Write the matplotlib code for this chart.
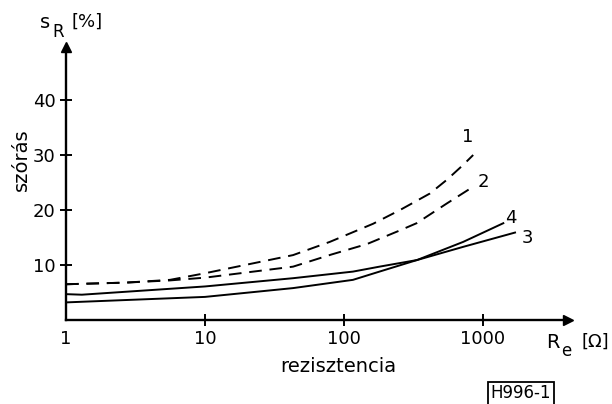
import matplotlib
matplotlib.use("Agg")
import matplotlib.pyplot as plt
import numpy as np

# Data
R1 = [1, 2.7, 5.6, 10, 43, 79, 162, 253, 415, 550, 720, 850]
S1 = [6.5, 6.8, 7.3, 8.5, 11.8, 14.2, 17.5, 20.0, 23.0, 25.5, 28.2, 30.0]
R2 = [1, 2.7, 5.6, 10, 43, 81, 146, 253, 333, 550, 810]
S2 = [6.5, 6.8, 7.2, 7.7, 9.7, 11.9, 13.8, 16.3, 17.6, 21.2, 23.9]
R3 = [1, 1.3, 10, 43, 116, 180, 335, 720, 1700]
S3 = [4.7, 4.6, 6.1, 7.6, 8.8, 9.7, 10.9, 13.3, 15.9]
R4 = [1, 10, 43, 116, 180, 335, 720, 1400]
S4 = [3.2, 4.2, 5.8, 7.3, 8.8, 10.9, 14.2, 17.6]

curve_labels = ["1", "2", "3", "4"]
label_pos_x = [780, 1000, 2100, 1590]
label_pos_y = [33.3, 25.1, 14.9, 18.5]

xticks = [1, 10, 100, 1000]
xticklabels = ["1", "10", "100", "1000"]
yticks = [10, 20, 30, 40]
yticklabels = ["10", "20", "30", "40"]

plt.rcParams['font.family'] = ['DejaVu Sans']
fig = plt.figure(figsize=(6.12, 4.04), dpi=100)
W, H = 612, 404
x0, x1 = 66, 568
y0, y1 = 320, 47
ax = fig.add_axes([x0 / W, (H - y0) / H, (x1 - x0) / W, (y0 - y1) / H])
ax.set_xscale('log')
xmax = 10 ** ((x1 - x0) / 139.0)
ymax = (y0 - y1) / 5.5
ax.set_xlim(1, xmax)
ax.set_ylim(0, ymax)

lw = 1.4
ax.plot(R1, S1, color='black', lw=lw, dashes=(6.5, 4))
ax.plot(R2, S2, color='black', lw=lw, dashes=(6.5, 4))
ax.plot(R3, S3, color='black', lw=lw)
ax.plot(R4, S4, color='black', lw=lw)

for t, lx, ly in zip(curve_labels, label_pos_x, label_pos_y):
    ax.text(lx, ly, t, fontsize=13, ha='center', va='center')

for s in ['top', 'right']:
    ax.spines[s].set_visible(False)
for s in ['left', 'bottom']:
    ax.spines[s].set_linewidth(1.7)

ax.plot([1], [ymax], marker='^', color='black', markersize=7, clip_on=False)
ax.plot([xmax], [0], marker='>', color='black', markersize=7, clip_on=False)

ax.set_xticks(xticks)
ax.set_xticklabels(xticklabels, fontsize=13)
ax.xaxis.set_minor_locator(matplotlib.ticker.NullLocator())
ax.set_yticks(yticks)
ax.set_yticklabels(yticklabels, fontsize=13)
ax.tick_params(axis='both', direction='inout', length=9, width=1.4, pad=3)
ax.xaxis.get_major_ticks()[0].tick1line.set_visible(False)

# axis titles
fig.text(45 / W, 1 - 22 / H, "s", fontsize=14, ha='center', va='center')
fig.text(58 / W, 1 - 32 / H, "R", fontsize=12, ha='center', va='center')
fig.text(87 / W, 1 - 22 / H, "[%]", fontsize=13, ha='center', va='center')
fig.text(21 / W, 1 - 160 / H, "szórás", fontsize=14, ha='center', va='center', rotation=90)
fig.text(338 / W, 1 - 366 / H, "rezisztencia", fontsize=14, ha='center', va='center')
fig.text(553 / W, 1 - 342 / H, "R", fontsize=14, ha='center', va='center')
fig.text(566 / W, 1 - 351 / H, "e", fontsize=12, ha='center', va='center')
fig.text(595 / W, 1 - 342 / H, "[Ω]", fontsize=13, ha='center', va='center')
fig.text(521 / W, 1 - 393 / H, "H996-1", fontsize=12, ha='center', va='center',
         bbox=dict(boxstyle='square,pad=0.15', fc='white', ec='black', lw=1.3))

fig.savefig("out.png", dpi=100)
